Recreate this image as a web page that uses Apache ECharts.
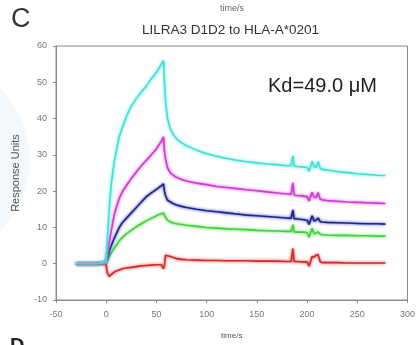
<!DOCTYPE html>
<html><head><meta charset="utf-8">
<script src="https://cdn.jsdelivr.net/npm/echarts@6/dist/echarts.min.js"></script>
<style>html,body{margin:0;padding:0;background:#fff;}#c{width:418px;height:345px;}</style>
</head><body><div id="c"></div>
<script>
const time = [-30,-20,-10,-2,0,1,3,5,8,10,13,16,20,25,30,35,40,45,50,55,57,58,59,61,64,67,70,75,80,90,100,110,120,130,140,150,160,170,180,184,185,186,187,189,195,200,202,203,205,207,209,211,213,215,220,230,240,250,260,270,278];
const cyanVals = [0,0,0,0.3,0.5,6,15,22,28,31,35,37.5,40.5,43.5,45.5,47.3,49,51,52.7,55,56,50,45,40,37,35.5,34.5,33.3,32.5,31.3,30.3,29.6,29,28.5,28.1,27.8,27.5,27.3,27,27,27,29.7,27,26.8,26.7,26.5,25.5,25.7,28.2,26.8,26.5,28.2,26.3,26,25.8,25.4,25.1,24.8,24.6,24.4,24.3];
const magentaVals = [0,0,0,0.2,0.5,3,6,9,13.5,15.5,18,19.8,21.5,23.5,25.3,27,28.5,30,31.7,33.8,35,31,29,26.5,25,24.3,23.8,23.2,22.8,22.2,21.8,21.3,21,20.7,20.4,20.1,19.8,19.5,19.2,19.1,19.1,22.3,19,18.8,18.7,18.5,17.3,17.5,19.7,18.3,18.2,19.6,17.8,17.6,17.4,17.2,17,16.9,16.8,16.7,16.6];
const blueVals = [0,0,0,0.2,0.4,1.5,3.5,5,7,8.2,10,11.3,12.5,14,15.5,17,18.5,19.5,20.5,21.5,22,20,18.8,17.5,17,16.5,16.2,15.8,15.5,15,14.6,14.3,14,13.7,13.4,13.2,13,12.8,12.6,12.5,12.5,14.8,12.4,12.4,12.2,12,10.8,11,13.2,11.8,12,12.6,11.6,11.5,11.4,11.3,11.2,11.1,11,11,10.9];
const greenVals = [0,0,0,0.2,0.3,1,2,3,4.3,5,6.3,7.2,8.2,9.2,10.2,11,11.8,12.5,13.2,13.8,14,13.5,12.8,12,11.5,11.2,11,10.8,10.6,10.3,10,9.8,9.6,9.5,9.4,9.2,9.1,9,8.9,8.9,8.9,10.8,8.8,8.7,8.7,8.6,7.3,7.4,9.8,8.3,8.4,8.8,8.1,8,7.9,7.8,7.8,7.7,7.7,7.6,7.6];
const redVals = [0,0,0,0,-0.3,-2.5,-3.5,-3,-2.3,-2,-1.7,-1.4,-1.2,-1,-0.8,-0.6,-0.5,-0.4,-0.3,-0.3,-1.4,-0.5,2.3,2.2,2,1.7,1.4,1.2,1.1,1,0.9,0.9,0.8,0.8,0.8,0.7,0.7,0.7,0.6,0.6,0.6,4.2,0.6,0.6,0.5,0.5,-0.7,-0.5,2,1.8,2.4,2.5,0.6,0.3,0.3,0.3,0.2,0.2,0.2,0.2,0.2];
const seriesNames = ['red','green','blue','magenta','cyan'];
const seriesVals = [redVals, greenVals, blueVals, magentaVals, cyanVals];
const seriesColors = ['#d62b2b','#3fd43a','#1c2595','#d23ad0','#3fe2d6'];
const titleText = 'LILRA3 D1D2 to HLA-A*0201';
const kdText = 'Kd=49.0 \u03bcM';

const chart = echarts.init(document.getElementById('c'), null, {renderer:'canvas'});
const font = 'Liberation Sans, Arial, sans-serif';
chart.setOption({
  animation:false,
  backgroundColor:'#fff',
  grid:{left:56,right:8,top:46,bottom:42,show:true,borderColor:'#8a8a8a',borderWidth:1},
  xAxis:{type:'value',min:-50,max:300,interval:50,
    name:'time/s',nameLocation:'middle',nameGap:32,nameTextStyle:{fontSize:8,color:'#555',fontFamily:font},
    axisLine:{show:true,onZero:false,lineStyle:{color:'#8a8a8a'}},axisTick:{show:true,length:3,lineStyle:{color:'#8a8a8a'}},
    axisLabel:{fontSize:9,color:'#777',fontFamily:font,margin:10},splitLine:{show:false}},
  yAxis:{type:'value',min:-10,max:60,interval:10,
    name:'Response Units',nameLocation:'middle',nameGap:35,nameTextStyle:{fontSize:11,color:'#555',fontFamily:font},
    axisLine:{show:true,onZero:false,lineStyle:{color:'#8a8a8a'}},axisTick:{show:true,length:3,lineStyle:{color:'#8a8a8a'}},
    axisLabel:{fontSize:9,color:'#777',fontFamily:font,margin:9},splitLine:{show:false}},
  graphic:[
    {type:'circle',shape:{cx:-70,cy:160,r:100},style:{fill:'#f2f8fc'},z:-10,silent:true},
    {type:'text',left:11,top:6,style:{text:'C',font:'27px '+font,fill:'#333'}},
    {type:'text',left:220,top:4,style:{text:'time/s',font:'9px '+font,fill:'#666'}},
    {type:'text',left:142,top:23,style:{text:titleText,font:'13.5px '+font,fill:'#333'}},
    {type:'text',left:268,top:76,style:{text:kdText,font:'20px '+font,fill:'#222'}},
    {type:'text',left:10,top:336,style:{text:'D',font:'bold 20px '+font,fill:'#222'}}
  ],
  series: seriesNames.map((n,i)=>({
    name:n,type:'line',showSymbol:false,symbol:'none',
    data: time.map((t,j)=>[t, seriesVals[i][j]]),
    lineStyle:{color:seriesColors[i],width:1.6,shadowBlur:3,shadowColor:seriesColors[i]},
    z:2+i
  }))
});
</script></body></html>
